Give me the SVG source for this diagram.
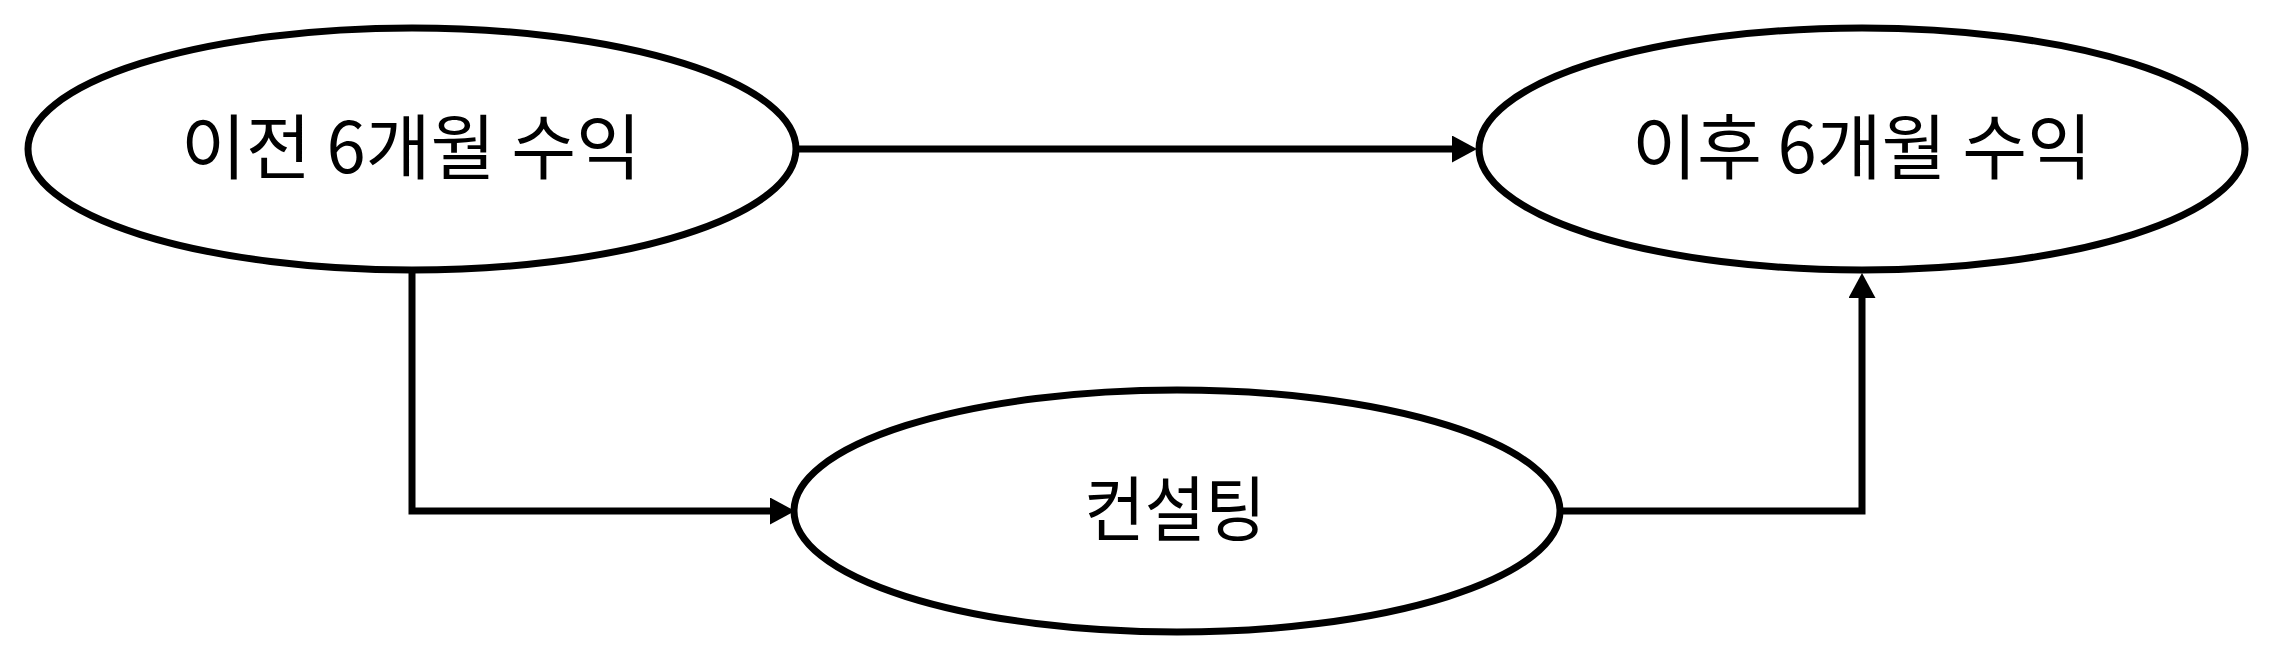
<svg xmlns="http://www.w3.org/2000/svg" width="2273" height="669" viewBox="0 0 2273 669">
<style>
.node ellipse{fill:#fff;stroke:#000;stroke-width:7}
.node text{font-family:"Noto Sans CJK KR","Noto Sans",sans-serif;font-size:71px;fill:#000;text-anchor:middle}
.edge{fill:none;stroke:#000;stroke-width:7}
</style>
<defs>
<marker id="arrow" markerUnits="userSpaceOnUse" markerWidth="26" markerHeight="28" refX="0" refY="13.5" orient="auto">
<path d="M0,0 L25,13.5 L0,27 Z" fill="#000"/>
</marker>
</defs>
<g id="connectors">
<path class="edge" d="M797,149 L1452,149" marker-end="url(#arrow)"/>
<path class="edge" d="M412,270 L412,511 L770,511" marker-end="url(#arrow)"/>
<path class="edge" d="M1560,511 L1862,511 L1862,298" marker-end="url(#arrow)"/>
</g>
<g id="node-before" class="node">
<ellipse cx="412" cy="149" rx="384" ry="121"/>
<text x="411" y="173" textLength="460" lengthAdjust="spacingAndGlyphs">이전 6개월 수익</text>
</g>
<g id="node-after" class="node">
<ellipse cx="1862" cy="149" rx="383" ry="121"/>
<text x="1862" y="173" textLength="460" lengthAdjust="spacingAndGlyphs">이후 6개월 수익</text>
</g>
<g id="node-consulting" class="node">
<ellipse cx="1177" cy="511" rx="383" ry="121"/>
<text x="1175" y="535" textLength="182" lengthAdjust="spacingAndGlyphs">컨설팅</text>
</g>
</svg>
